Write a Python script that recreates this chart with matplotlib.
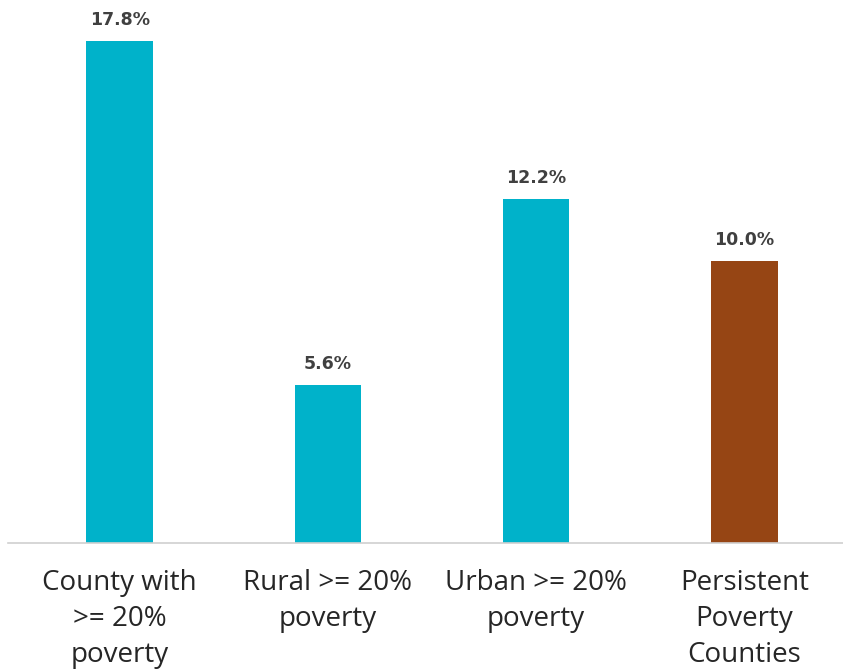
import numpy as np
import matplotlib
matplotlib.use("Agg")
from matplotlib import pyplot as plt

categories = ["County with\n>= 20%\npoverty", "Rural >= 20%\npoverty",
              "Urban >= 20%\npoverty", "Persistent\nPoverty\nCounties"]
values = [17.8, 5.6, 12.2, 10.0]
colors = ["#00B2CA", "#00B2CA", "#00B2CA", "#964514"]
value_labels = ["17.8%", "5.6%", "12.2%", "10.0%"]

fig = plt.figure(figsize=(8.43, 6.69), dpi=100)
ax = fig.add_axes([0.0095, 0.1883, 0.9905, 0.8117])

x = np.arange(len(values))
bars = ax.bar(x, values, width=0.32, color=colors)

for b, lab in zip(bars, value_labels):
    ax.annotate(lab, (b.get_x() + b.get_width() / 2, b.get_height()),
                xytext=(0, 9), textcoords="offset points",
                ha="center", va="bottom", fontsize=12.5, fontweight="semibold",
                color="#404040", family="DejaVu Sans")

ax.set_xlim(-0.536, 3.474)
ax.set_ylim(0, 19.26)
ax.set_yticks([])
ax.set_xticks(x)
ax.set_xticklabels(categories, fontsize=20, color="#262626", family="Open Sans",
                   linespacing=1.37)
ax.tick_params(axis="x", length=0, pad=19)

for s in ["top", "right", "left"]:
    ax.spines[s].set_visible(False)
ax.spines["bottom"].set_color("#D0D0D0")
ax.spines["bottom"].set_linewidth(1.2)

plt.savefig("out.png", dpi=100)
